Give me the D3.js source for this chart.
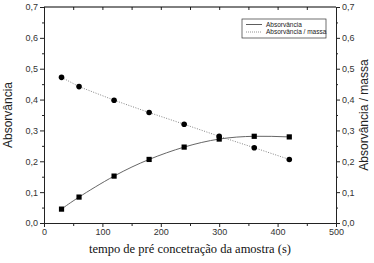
<!DOCTYPE html>
<html>
<head>
<meta charset="utf-8">
<script src="https://cdn.jsdelivr.net/npm/d3@7"></script>
<style>
  body { margin: 0; background: #fff; }
  svg { display: block; }
  .tick text { font-family: Arial, "Liberation Sans", sans-serif; font-size: 9px; fill: #333; }
</style>
</head>
<body>
<div id="container"></div>
<script>
/* DATA */
const tempo = [30, 60, 120, 180, 240, 300, 360, 420];
const absorvancia = [0.045, 0.084, 0.152, 0.206, 0.246, 0.272, 0.281, 0.279];
const absMassa = [0.472, 0.442, 0.398, 0.358, 0.320, 0.281, 0.244, 0.206];
const xTicks = [0, 100, 200, 300, 400, 500];
const yTicks = [0, 0.1, 0.2, 0.3, 0.4, 0.5, 0.6, 0.7];
const legendLabels = ["Absorvância", "Absorvância / massa"];

/* CONSTANTS */
const width = 374,
    height = 263,
    margin = { top: 7, bottom: 40, left: 44, right: 38 };

const fmt = d => d3.format(".1f")(d).replace(".", ",");

const xScale = d3.scaleLinear()
    .domain([0, 500])
    .range([margin.left, width - margin.right]);

const yScale = d3.scaleLinear()
    .domain([0, 0.7])
    .range([height - margin.bottom, margin.top]);

const svg = d3.select("#container")
    .append("svg")
    .attr("width", width)
    .attr("height", height);

// minor ticks
const xMinor = d3.range(50, 500, 100);
const yMinor = d3.range(0.05, 0.7, 0.1);

// BOTTOM AXIS
svg.append("g")
    .attr("transform", `translate(0,${yScale(0)})`)
    .call(d3.axisBottom(xScale).tickValues(xMinor).tickSize(3).tickFormat(""))
    .call(g => g.select(".domain").remove());
svg.append("g")
    .attr("transform", `translate(0,${yScale(0)})`)
    .call(d3.axisBottom(xScale).tickValues(xTicks).tickSize(4).tickPadding(2).tickFormat(d3.format("d")));

// TOP AXIS (ticks inward)
svg.append("g")
    .attr("transform", `translate(0,${yScale(0.7)})`)
    .call(d3.axisBottom(xScale).tickValues(xTicks.concat(xMinor)).tickSize(3).tickFormat(""))
    .call(g => g.select(".domain").remove());
svg.append("line")
    .attr("x1", xScale(0)).attr("x2", xScale(500))
    .attr("y1", yScale(0.7)).attr("y2", yScale(0.7))
    .attr("stroke", "#000");

// LEFT AXIS
svg.append("g")
    .attr("transform", `translate(${xScale(0)},0)`)
    .call(d3.axisLeft(yScale).tickValues(yMinor).tickSize(2).tickFormat(""))
    .call(g => g.select(".domain").remove());
svg.append("g")
    .attr("transform", `translate(${xScale(0)},0)`)
    .call(d3.axisLeft(yScale).tickValues(yTicks).tickSize(4).tickPadding(2).tickFormat(fmt));

// RIGHT AXIS
svg.append("g")
    .attr("transform", `translate(${xScale(500)},0)`)
    .call(d3.axisRight(yScale).tickValues(yMinor).tickSize(2).tickFormat(""))
    .call(g => g.select(".domain").remove());
svg.append("g")
    .attr("transform", `translate(${xScale(500)},0)`)
    .call(d3.axisRight(yScale).tickValues(yTicks).tickSize(4).tickPadding(2).tickFormat(fmt));

svg.selectAll(".domain").attr("stroke", "#222");
svg.selectAll(".tick line").attr("stroke", "#222");

// LINES
const pts1 = tempo.map((t, i) => [t, absorvancia[i]]);
const pts2 = tempo.map((t, i) => [t, absMassa[i]]);

svg.append("path")
    .datum(pts1)
    .attr("fill", "none")
    .attr("stroke", "#555")
    .attr("stroke-width", 0.9)
    .attr("d", d3.line().x(d => xScale(d[0])).y(d => yScale(d[1])).curve(d3.curveNatural));

svg.append("path")
    .datum(pts2)
    .attr("fill", "none")
    .attr("stroke", "#777")
    .attr("stroke-width", 0.9)
    .attr("stroke-dasharray", "1,1.5")
    .attr("d", d3.line().x(d => xScale(d[0])).y(d => yScale(d[1])));

// MARKERS
svg.selectAll(".sq")
    .data(pts1)
    .join("rect")
    .attr("class", "sq")
    .attr("x", d => xScale(d[0]) - 2.6)
    .attr("y", d => yScale(d[1]) - 2.6)
    .attr("width", 5.2)
    .attr("height", 5.2)
    .attr("fill", "#000");

svg.selectAll(".dot")
    .data(pts2)
    .join("circle")
    .attr("class", "dot")
    .attr("cx", d => xScale(d[0]))
    .attr("cy", d => yScale(d[1]))
    .attr("r", 2.8)
    .attr("fill", "#000");

// AXIS LABELS
svg.append("text")
    .attr("transform", `translate(12,${(margin.top + height - margin.bottom) / 2}) rotate(-90)`)
    .attr("text-anchor", "middle")
    .style("font-family", "Arial, 'Liberation Sans', sans-serif")
    .style("font-size", "12px")
    .attr("fill", "#222")
    .text("Absorvância");

svg.append("text")
    .attr("transform", `translate(368,${(margin.top + height - margin.bottom) / 2}) rotate(-90)`)
    .attr("text-anchor", "middle")
    .style("font-family", "Arial, 'Liberation Sans', sans-serif")
    .style("font-size", "12px")
    .attr("fill", "#222")
    .text("Absorvância / massa");

svg.append("text")
    .attr("x", (margin.left + width - margin.right) / 2)
    .attr("y", 253)
    .attr("text-anchor", "middle")
    .style("font-family", "'Liberation Serif', 'Times New Roman', serif")
    .style("font-size", "12.5px")
    .attr("fill", "#111")
    .text("tempo de pré concetração da amostra (s)");

// LEGEND
const legend = svg.append("g").attr("transform", "translate(242,19)");
legend.append("rect")
    .attr("width", 84).attr("height", 19)
    .attr("fill", "#fff").attr("stroke", "#333").attr("stroke-width", 0.7);
legendLabels.forEach((lab, i) => {
    legend.append("line")
        .attr("x1", 4).attr("x2", 20)
        .attr("y1", 5.5 + i * 7.5).attr("y2", 5.5 + i * 7.5)
        .attr("stroke", i ? "#777" : "#333")
        .attr("stroke-width", 0.8)
        .attr("stroke-dasharray", i ? "1,1" : null);
    legend.append("text")
        .attr("x", 24).attr("y", 5.5 + i * 7.5)
        .attr("dy", "0.35em")
        .style("font-family", "Arial, 'Liberation Sans', sans-serif")
        .style("font-size", "6.5px")
        .attr("fill", "#222")
        .text(lab);
});
</script>
</body>
</html>
